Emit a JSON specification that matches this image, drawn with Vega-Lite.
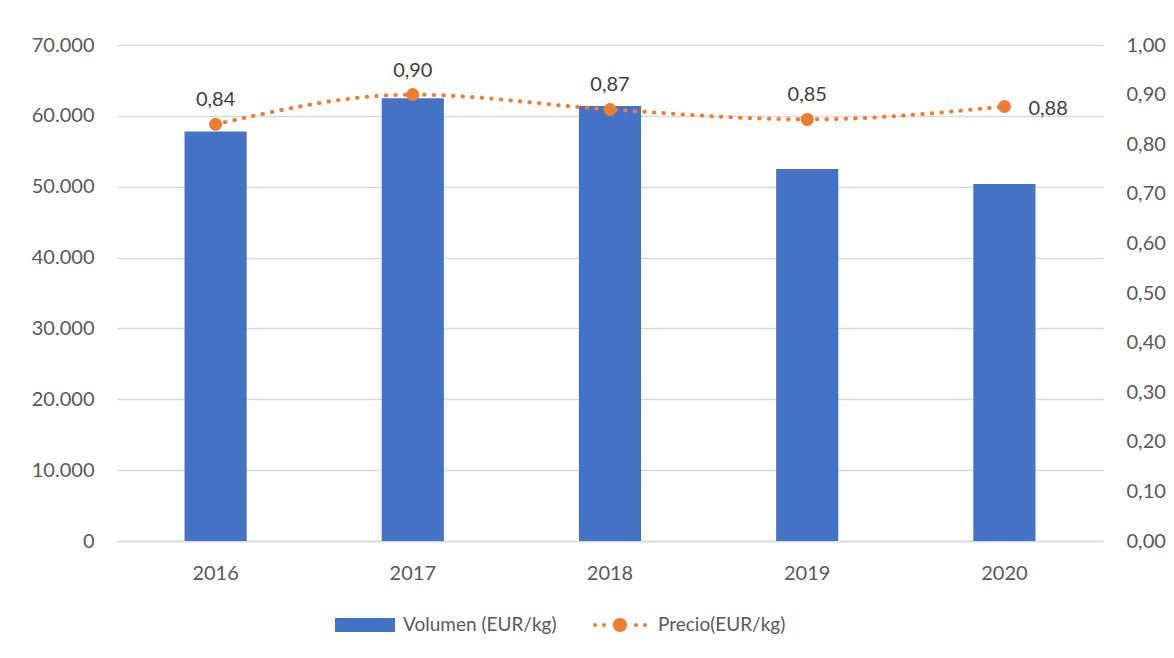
{
  "$schema": "https://vega.github.io/schema/vega-lite/v6.json",
  "width": 986,
  "height": 496,
  "autosize": {"type": "none"},
  "padding": {"left": 117, "top": 45, "right": 71, "bottom": 117},
  "background": "white",
  "config": {
    "locale": {"number": {"decimal": ",", "thousands": ".", "grouping": [3], "currency": ["", " €"]}},
    "font": "Lato",
    "view": {"stroke": null},
    "axis": {"labelFont": "Lato", "labelFontSize": 20, "labelColor": "#595959", "ticks": false, "domain": false, "title": null}
  },
  "data": {
    "values": [
      {"year": "2016", "volumen": 57800, "precio": 0.84},
      {"year": "2017", "volumen": 62500, "precio": 0.90},
      {"year": "2018", "volumen": 61400, "precio": 0.87},
      {"year": "2019", "volumen": 52500, "precio": 0.85},
      {"year": "2020", "volumen": 50400, "precio": 0.876}
    ]
  },
  "encoding": {
    "x": {
      "field": "year", "type": "ordinal",
      "scale": {"paddingInner": 0, "paddingOuter": 0},
      "axis": {"labelAngle": 0, "labelPadding": 22, "grid": false, "domain": true, "domainColor": "#D9D9D9", "domainWidth": 1.5}
    }
  },
  "layer": [
    {
      "mark": {"type": "bar", "width": {"band": 0.315}},
      "encoding": {
        "y": {
          "field": "volumen", "type": "quantitative",
          "scale": {"domain": [0, 70000], "nice": false},
          "axis": {"orient": "left", "values": [0, 10000, 20000, 30000, 40000, 50000, 60000, 70000], "format": ",.0f", "grid": true, "gridColor": "#D9D9D9", "gridWidth": 1.5, "labelPadding": 23}
        },
        "color": {
          "datum": "Volumen (EUR/kg)",
          "scale": {"domain": ["Volumen (EUR/kg)", "Precio(EUR/kg)"], "range": ["#4472C4", "#ED7D31"]},
          "legend": {
            "title": null,
            "orient": "none",
            "legendX": 218,
            "legendY": 550,
            "direction": "horizontal",
            "symbolSize": 3600,
            "labelFont": "Lato",
            "labelFontSize": 19,
            "labelColor": "#595959",
            "labelOffset": 8,
            "columnPadding": 33,
            "labelLimit": 300,
            "encode": {
              "symbols": {
                "update": {
                  "shape": {"signal": "datum.value == 'Volumen (EUR/kg)' ? 'M-1,-0.233H1V0.233H-1Z' : 'M-0.9,0a0.067,0.067 0 1,0 0.134,0a0.067,0.067 0 1,0 -0.134,0M-0.6,0a0.067,0.067 0 1,0 0.134,0a0.067,0.067 0 1,0 -0.134,0M0.466,0a0.067,0.067 0 1,0 0.134,0a0.067,0.067 0 1,0 -0.134,0M0.766,0a0.067,0.067 0 1,0 0.134,0a0.067,0.067 0 1,0 -0.134,0M-0.233,0a0.233,0.233 0 1,0 0.466,0a0.233,0.233 0 1,0 -0.466,0'"},
                  "fill": {"signal": "scale('color', datum.value)"},
                  "fillOpacity": {"value": 1},
                  "opacity": {"value": 1},
                  "strokeWidth": {"value": 0}
                }
              }
            }
          }
        }
      }
    },
    {
      "encoding": {
        "y": {
          "field": "precio", "type": "quantitative",
          "scale": {"domain": [0, 1], "nice": false},
          "axis": {"orient": "right", "values": [0, 0.1, 0.2, 0.3, 0.4, 0.5, 0.6, 0.7, 0.8, 0.9, 1], "format": ".2f", "grid": false, "labelPadding": 23}
        }
      },
      "layer": [
        {
          "mark": {"type": "line", "strokeWidth": 4, "strokeDash": [0.5, 9.1], "strokeCap": "round", "interpolate": "monotone"},
          "encoding": {"color": {"datum": "Precio(EUR/kg)"}}
        },
        {
          "mark": {"type": "point", "filled": true, "size": 169, "opacity": 1},
          "encoding": {"color": {"datum": "Precio(EUR/kg)"}}
        },
        {
          "transform": [{"filter": "datum.year != '2020'"}],
          "mark": {"type": "text", "dy": -24, "fontSize": 20, "font": "Lato", "color": "#404040"},
          "encoding": {"text": {"field": "precio", "type": "quantitative", "format": ".2f"}}
        },
        {
          "transform": [{"filter": "datum.year == '2020'"}],
          "mark": {"type": "text", "dx": 24, "dy": 2, "align": "left", "fontSize": 20, "font": "Lato", "color": "#404040"},
          "encoding": {"text": {"field": "precio", "type": "quantitative", "format": ".2f"}}
        }
      ]
    }
  ],
  "resolve": {"scale": {"y": "independent"}}
}
